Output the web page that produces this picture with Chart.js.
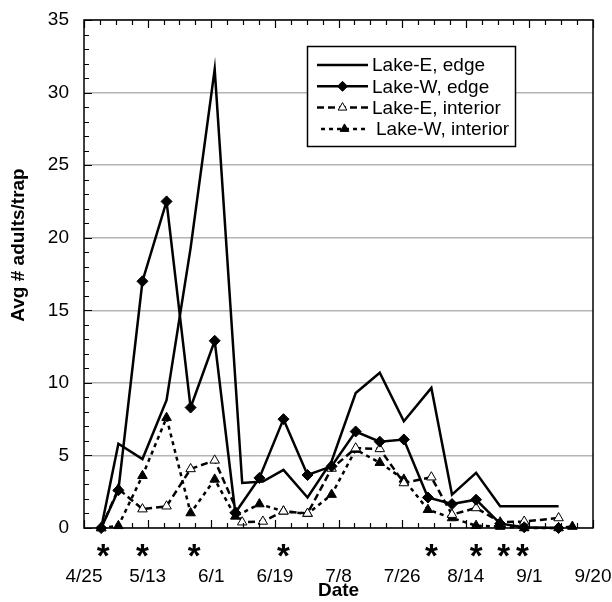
<!DOCTYPE html>
<html>
<head>
<meta charset="utf-8">
<script src="https://cdn.jsdelivr.net/npm/chart.js@4.4.1/dist/chart.umd.min.js"></script>
<style>
  html, body { margin: 0; padding: 0; background: #fff; overflow: hidden; }
  canvas { display: block; }
</style>
</head>
<body>
<canvas id="chart" width="612" height="602"></canvas>
<script>
// x axis runs in days after 4/25, labels every 18.5 days
const xLabels = ["4/25", "5/13", "6/1", "6/19", "7/8", "7/26", "8/14", "9/1", "9/20"];
const xStep = 18.5;

// Lake-E sampling days and values
const lakeEDays = [5, 10, 17, 24, 31, 38, 46, 52, 58, 65, 72, 79, 86, 93, 101, 107, 114, 121, 128, 138];
const lakeEEdge = [0, 5.8, 4.75, 8.8, 19.3, 31.6, 3.1, 3.2, 4.0, 2.1, 4.6, 9.3, 10.7, 7.35, 9.65, 2.3, 3.8, 1.5, 1.5, 1.5];
const lakeEInterior = [0, 2.7, 1.3, 1.5, 4.07, 4.66, 0.4, 0.45, 1.15, 1.0, 4.1, 5.5, 5.45, 3.1, 3.5, 0.92, 1.38, 0.4, 0.45, 0.69];

// Lake-W sampling days and values
const lakeWEdgeDays = [5, 10, 17, 24, 31, 38, 44, 51, 58, 65, 72, 79, 86, 93, 100, 107, 114, 121, 128, 138];
const lakeWEdge = [0, 2.6, 17.0, 22.5, 8.3, 12.9, 1.05, 3.45, 7.5, 3.65, 4.25, 6.65, 5.95, 6.1, 2.1, 1.65, 1.95, 0.3, 0.05, 0];
const lakeWIntDays = [5, 10, 17, 24, 31, 38, 44, 51, 58, 65, 72, 79, 86, 93, 100, 107, 114, 121, 128, 138, 142];
const lakeWInterior = [0, 0.15, 3.6, 7.6, 1.03, 3.35, 0.8, 1.65, 1.15, 0.98, 2.3, 5.4, 4.5, 3.35, 1.26, 0.69, 0.16, 0.1, 0, 0, 0.1];

// dates marked with an asterisk under the axis
const starDays = [5.6, 17, 32, 58, 101, 114, 122, 127.5];

const FONT = "'Liberation Sans', Arial, sans-serif";

function pts(days, vals) {
  return days.map((d, i) => ({ x: d, y: vals[i] }));
}

const series = [
  { label: "Lake-E, edge", data: pts(lakeEDays, lakeEEdge), dash: [], style: false, fill: "#000" },
  { label: "Lake-W, edge", data: pts(lakeWEdgeDays, lakeWEdge), dash: [], style: "rectRot", fill: "#000" },
  { label: "Lake-E, interior", data: pts(lakeEDays, lakeEInterior), dash: [7, 4], style: "triangle", fill: "#fff" },
  { label: "Lake-W, interior", data: pts(lakeWIntDays, lakeWInterior), dash: [4, 4], style: "triangle", fill: "#000" },
];

const datasets = series.map((s) => ({
  label: s.label,
  data: s.data,
  borderColor: "#000",
  borderWidth: 2.5,
  borderDash: s.dash,
  tension: 0,
  pointStyle: s.style,
  pointRadius: s.style ? 5.5 : 0,
  pointBackgroundColor: s.fill,
  pointBorderColor: "#000",
  pointBorderWidth: 1,
  clip: false,
}));

// frame, inward ticks, asterisks, titles and legend box
const decor = {
  id: "decor",
  afterDraw(chart) {
    const { ctx, chartArea: a, scales } = chart;
    const x = scales.x, y = scales.y;
    ctx.save();
    ctx.strokeStyle = "#000";
    ctx.lineWidth = 1.5;
    ctx.strokeRect(a.left, a.top, a.right - a.left, a.bottom - a.top);

    ctx.lineWidth = 1.2;
    ctx.beginPath();
    for (let i = 0; i <= 32; i++) {
      const px = Math.round(x.getPixelForValue((i * xStep) / 4)) + 0.5;
      const len = i % 4 === 0 ? 8 : 5;
      ctx.moveTo(px, a.bottom); ctx.lineTo(px, a.bottom - len);
      ctx.moveTo(px, a.top); ctx.lineTo(px, a.top + len);
    }
    for (let v = 0; v <= 35; v++) {
      const py = Math.round(y.getPixelForValue(v)) + 0.5;
      const len = v % 5 === 0 ? 8 : 5;
      ctx.moveTo(a.left, py); ctx.lineTo(a.left + len, py);
    }
    ctx.stroke();

    // asterisks
    ctx.fillStyle = "#000";
    ctx.font = "bold 33px " + FONT;
    ctx.textAlign = "center";
    ctx.textBaseline = "alphabetic";
    const m = ctx.measureText("*");
    const off = (m.actualBoundingBoxAscent - m.actualBoundingBoxDescent) / 2;
    starDays.forEach((d) => {
      ctx.fillText("*", x.getPixelForValue(d), 550 + off);
    });

    // axis titles
    ctx.font = "bold 19px " + FONT;
    ctx.textBaseline = "middle";
    ctx.fillText("Date", (a.left + a.right) / 2, 591);
    ctx.save();
    ctx.translate(19, 245);
    ctx.rotate(-Math.PI / 2);
    ctx.fillText("Avg # adults/trap", 0, 0);
    ctx.restore();

    // legend
    const bx = 307.5, by = 46.5, bw = 208, bh = 100;
    ctx.fillStyle = "#fff";
    ctx.fillRect(bx, by, bw, bh);
    ctx.lineWidth = 1.5;
    ctx.strokeStyle = "#000";
    ctx.strokeRect(bx, by, bw, bh);
    ctx.font = "19px " + FONT;
    ctx.textAlign = "left";
    ctx.textBaseline = "middle";
    series.forEach((s, i) => {
      const ry = 65 + i * 21.3;
      const x0 = i === 3 ? 321 : 317;
      const x1 = 368;
      ctx.save();
      ctx.lineWidth = 2.5;
      ctx.setLineDash(s.dash);
      ctx.beginPath();
      ctx.moveTo(x0, ry);
      ctx.lineTo(x1, ry);
      ctx.stroke();
      ctx.restore();
      if (s.style) {
        ctx.save();
        ctx.fillStyle = s.fill;
        ctx.strokeStyle = "#000";
        ctx.lineWidth = 1;
        Chart.helpers.drawPoint(ctx, { pointStyle: s.style, radius: 5, rotation: 0, borderWidth: 1 }, (x0 + x1) / 2, ry);
        ctx.restore();
      }
      ctx.fillStyle = "#000";
      ctx.fillText(s.label, i === 3 ? 376 : 372, ry + 1);
    });
    ctx.restore();
  },
};

new Chart(document.getElementById("chart"), {
  type: "line",
  data: { datasets: datasets },
  options: {
    responsive: false,
    animation: false,
    events: [],
    layout: { padding: { top: 20, right: 19, left: 0, bottom: 0 } },
    plugins: { legend: { display: false }, tooltip: { enabled: false } },
    scales: {
      x: {
        type: "linear",
        min: 0,
        max: 148,
        grid: { display: false, drawTicks: false },
        border: { display: false },
        ticks: {
          stepSize: xStep,
          autoSkip: false,
          maxRotation: 0,
          padding: 37,
          color: "#000",
          font: { family: FONT, size: 19 },
          callback: (v) => xLabels[Math.round(v / xStep)],
        },
        afterFit: (s) => {
          s.height = 74;
          s.paddingLeft = 0;
          s.paddingRight = 0;
        },
      },
      y: {
        min: 0,
        max: 35,
        grid: { color: "#b4b4b4", lineWidth: 1.5, drawTicks: false },
        border: { display: false },
        ticks: {
          stepSize: 5,
          padding: 15,
          color: "#000",
          font: { family: FONT, size: 19 },
        },
        afterFit: (s) => {
          s.width = 84;
          s.paddingTop = 0;
          s.paddingBottom = 0;
        },
      },
    },
  },
  plugins: [decor],
});
</script>
</body>
</html>
